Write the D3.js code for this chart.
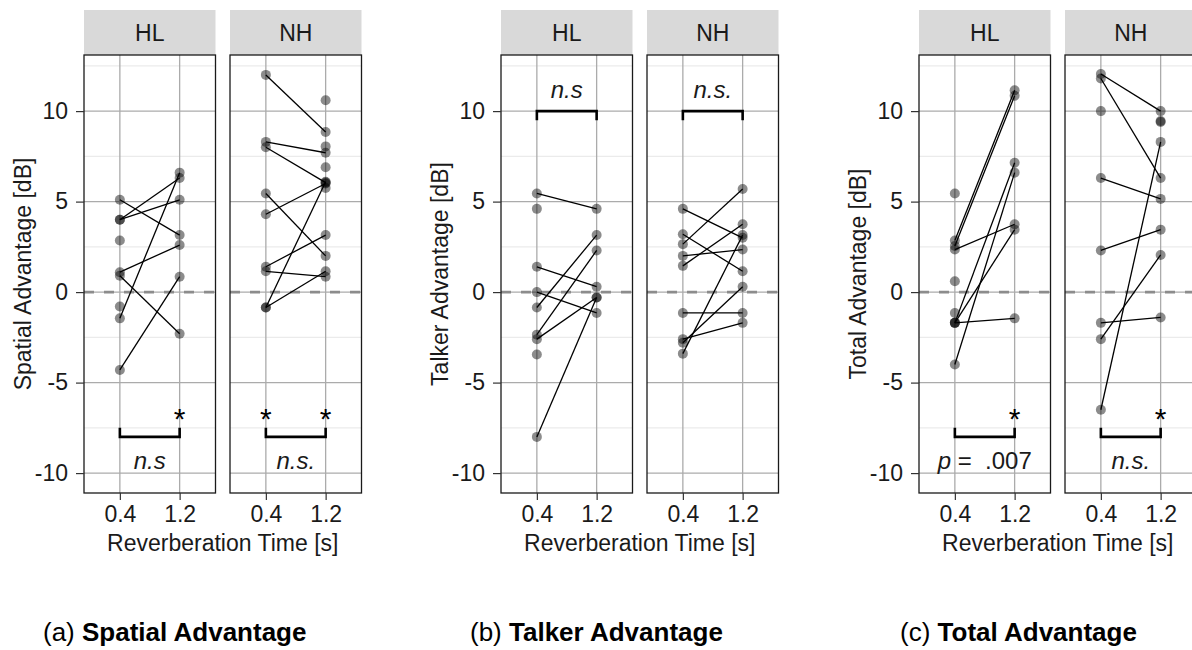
<!DOCTYPE html>
<meta charset="utf-8">
<style>
  body { margin: 0; background: #fff; }
  svg { font-family: "Liberation Sans", Arial, Helvetica, sans-serif; }
  .tick text { fill: #1a1a1a; font-size: 23px; }
  .tick line { stroke: #333; stroke-width: 1.2px; }
</style>
<body>
<svg id="chart" width="1192" height="650"></svg>
<script src="https://d3js.org/d3.v7.min.js"></script>
<script>
// each row is one listener: [value at 0.4 s, value at 1.2 s], null = missing
var conditions = ["0.4", "1.2"];
var groups = ["HL", "NH"];
var yTicks = [-10, -5, 0, 5, 10];
var yMinor = [-7.5, -2.5, 2.5, 7.5, 12.5];

var spatialHL = [[5.1, 3.15], [4.0, 6.3], [4.0, 5.1], [1.1, 2.6], [0.9, -2.3], [-1.45, 6.6], [-4.3, 0.85],
                 [2.85, null], [-0.8, null]];
var spatialNH = [[12.0, 8.85], [8.3, 7.7], [8.0, 6.05], [5.45, 2.0], [4.3, 6.0], [1.4, 3.15], [1.15, 0.85],
                 [-0.85, 6.1], [-0.85, 1.15], [null, 10.6], [null, 8.05], [null, 6.9], [null, 5.75]];
var talkerHL  = [[5.45, 4.6], [1.4, 0.3], [0.0, -1.15], [-0.85, 3.15], [-2.35, 2.3], [-2.6, -0.3], [-8.0, -0.3],
                 [4.6, null], [-3.45, null]];
var talkerNH  = [[4.6, 3.0], [3.2, 1.15], [2.65, 5.7], [2.0, 2.35], [1.45, 3.75], [-1.15, -1.15],
                 [-2.6, -1.7], [-2.8, 0.3], [-3.4, 3.15]];
var totalHL   = [[2.85, 11.15], [2.55, 10.85], [2.35, 3.75], [-1.7, 7.15], [-1.7, 3.45], [-1.7, -1.45],
                 [-4.0, 6.6], [5.45, null], [0.6, null], [-1.15, null]];
var totalNH   = [[12.05, 10.0], [11.8, 6.3], [6.3, 5.15], [2.3, 3.45], [-1.7, -1.4], [-2.6, 2.05],
                 [-6.5, 8.3], [10.0, null], [null, 9.45], [null, 9.4]];

// significance marks
var spatialStars = {HL: ["1.2"], NH: ["0.4", "1.2"]};
var talkerStars  = {HL: [], NH: []};
var totalStars   = {HL: ["1.2"], NH: ["1.2"]};
var spatialLabels = {HL: "n.s", NH: "n.s."};
var talkerLabels  = {HL: "n.s", NH: "n.s."};
var totalLabels   = {HL: "p = .007", NH: "n.s."};

var figures = [
  {tag: "(a)", name: "Spatial Advantage", ylab: "Spatial Advantage [dB]", data: {HL: spatialHL, NH: spatialNH},
   stars: spatialStars, labels: spatialLabels, top: false},
  {tag: "(b)", name: "Talker Advantage", ylab: "Talker Advantage [dB]", data: {HL: talkerHL, NH: talkerNH},
   stars: talkerStars, labels: talkerLabels, top: true},
  {tag: "(c)", name: "Total Advantage", ylab: "Total Advantage [dB]", data: {HL: totalHL, NH: totalNH},
   stars: totalStars, labels: totalLabels, top: false}
];

var svg = d3.select("#chart");
svg.append("rect").attr("width", 1192).attr("height", 650).attr("fill", "#fff");

var origins = [84, 501, 919];
var captionX = [43, 470, 900];
var panelW = 131.5, gapW = 14.5;
var stripTop = 10, panelTop = 55, panelBottom = 493;

var y = d3.scaleLinear().domain([-11.1, 13.1]).range([panelBottom, panelTop]);

figures.forEach(function(fig, i) {
  var g = svg.append("g");
  var left0 = origins[i];

  groups.forEach(function(grp, j) {
    var left = left0 + j * (panelW + gapW);
    var x = d3.scalePoint().domain(conditions).range([left, left + panelW]).padding(0.6);
    var p = g.append("g");

    // strip
    p.append("rect").attr("x", left).attr("y", stripTop).attr("width", panelW)
      .attr("height", panelTop - stripTop).attr("fill", "#d9d9d9");
    p.append("text").attr("x", left + panelW / 2).attr("y", (stripTop + panelTop) / 2)
      .attr("text-anchor", "middle").attr("dominant-baseline", "central")
      .attr("font-size", 23).attr("fill", "#1a1a1a").text(grp);

    // grid
    p.selectAll(".minor").data(yMinor).join("line")
      .attr("x1", left).attr("x2", left + panelW)
      .attr("y1", function(d) { return y(d); }).attr("y2", function(d) { return y(d); })
      .attr("stroke", "#ebebeb").attr("stroke-width", 1.1);
    p.selectAll(".major").data(yTicks).join("line")
      .attr("x1", left).attr("x2", left + panelW)
      .attr("y1", function(d) { return y(d); }).attr("y2", function(d) { return y(d); })
      .attr("stroke", "#ababab").attr("stroke-width", 1.3);
    p.selectAll(".vgrid").data(conditions).join("line")
      .attr("x1", function(d) { return x(d); }).attr("x2", function(d) { return x(d); })
      .attr("y1", panelTop).attr("y2", panelBottom)
      .attr("stroke", "#ababab").attr("stroke-width", 1.3);

    // zero reference
    p.append("line").attr("x1", left).attr("x2", left + panelW)
      .attr("y1", y(0)).attr("y2", y(0))
      .attr("stroke", "#8c8c8c").attr("stroke-width", 2.6).attr("stroke-dasharray", "10,10");

    var rows = fig.data[grp];
    var pts = [];
    rows.forEach(function(r) {
      if (r[0] !== null) pts.push([conditions[0], r[0]]);
      if (r[1] !== null) pts.push([conditions[1], r[1]]);
    });
    p.selectAll("circle").data(pts).join("circle")
      .attr("cx", function(d) { return x(d[0]); })
      .attr("cy", function(d) { return y(d[1]); })
      .attr("r", 5).attr("fill", "#000").attr("fill-opacity", 0.45);

    p.selectAll(".pair").data(rows.filter(function(r) { return r[0] !== null && r[1] !== null; }))
      .join("line")
      .attr("x1", x(conditions[0])).attr("x2", x(conditions[1]))
      .attr("y1", function(d) { return y(d[0]); }).attr("y2", function(d) { return y(d[1]); })
      .attr("stroke", "#000").attr("stroke-width", 1.3);

    // bracket + label + stars
    var yb = fig.top ? 10 : -8, ye = fig.top ? 9.5 : -7.5, yl = fig.top ? 10.7 : -9.75;
    var x0 = x(conditions[0]), x1 = x(conditions[1]);
    p.append("path")
      .attr("d", "M" + x0 + "," + y(ye) + "V" + y(yb) + "H" + x1 + "V" + y(ye))
      .attr("fill", "none").attr("stroke", "#000").attr("stroke-width", 2.6);

    var lab = fig.labels[grp];
    var t = p.append("text").attr("x", (x0 + x1) / 2).attr("y", y(yl))
      .attr("text-anchor", "middle").attr("font-size", 24).attr("fill", "#1a1a1a")
      .attr("xml:space", "preserve");
    if (lab.indexOf("p =") === 0) {
      t.append("tspan").attr("font-style", "italic").text("p");
      t.append("tspan").text(" =\u00a0 .007");
    } else {
      t.attr("font-style", "italic").text(lab);
    }

    p.selectAll(".star").data(fig.stars[grp]).join("text")
      .attr("x", function(d) { return x(d); })
      .attr("y", y(-6.6) + 0.57 * 30)
      .attr("text-anchor", "middle").attr("font-size", 30).attr("fill", "#000")
      .text("*");

    // border
    p.append("rect").attr("x", left).attr("y", panelTop).attr("width", panelW)
      .attr("height", panelBottom - panelTop).attr("fill", "none")
      .attr("stroke", "#1a1a1a").attr("stroke-width", 1.3);

    // x axis
    var xa = p.append("g").attr("transform", "translate(0," + panelBottom + ")")
      .call(d3.axisBottom(x).tickSize(7).tickPadding(6));
    xa.select(".domain").remove();

    if (j === 0) {
      var ya = p.append("g").attr("transform", "translate(" + left + ",0)")
        .call(d3.axisLeft(y).tickValues(yTicks).tickSize(8).tickPadding(8)
          .tickFormat(function(d) { return String(d); }));
      ya.select(".domain").remove();
    }
  });

  var mid = left0 + (2 * panelW + gapW) / 2;
  g.append("text").attr("x", mid).attr("y", 551).attr("text-anchor", "middle")
    .attr("font-size", 23).attr("fill", "#1a1a1a").text("Reverberation Time [s]");

  g.append("text")
    .attr("transform", "translate(" + (left0 - 61) + "," + ((panelTop + panelBottom) / 2) + ") rotate(-90)")
    .attr("text-anchor", "middle").attr("dominant-baseline", "central")
    .attr("font-size", 23).attr("fill", "#1a1a1a").text(fig.ylab);

  var cap = svg.append("text").attr("x", captionX[i]).attr("y", 641)
    .attr("font-size", 26).attr("fill", "#000");
  cap.append("tspan").text(fig.tag + " ");
  cap.append("tspan").attr("font-weight", "bold").text(fig.name);
});
</script>
</body>
